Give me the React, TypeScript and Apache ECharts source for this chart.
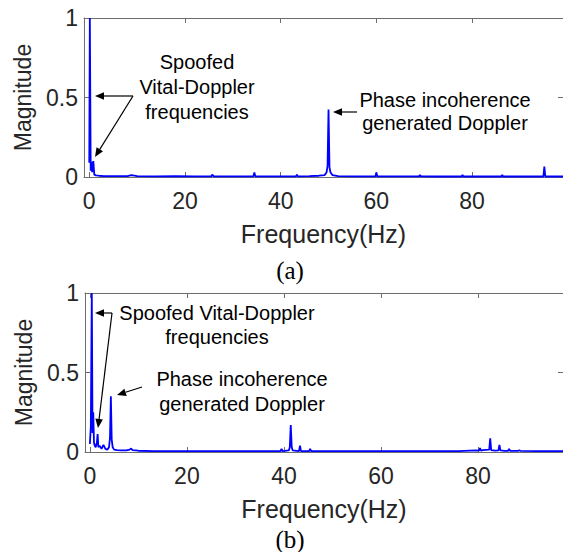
import React, { useEffect, useRef } from "react";
import * as echarts from "echarts";

const xTickValues = [0, 20, 40, 60, 80];
const topRange = [-1.1, 99];
const bottomRange = [-1.0, 97.5];

// (a) spectrum: [frequency Hz, magnitude]
const topSpectrum: [number, number][] = [
  [0, 0.09], [0.12, 1.0], [0.3, 0.04], [0.45, 0.095], [0.6, 0.03], [0.85, 0.1], [1.05, 0.015],
  [1.4, 0.01], [2, 0.008], [3, 0.006], [4.5, 0.005], [6, 0.006], [8, 0.005], [8.8, 0.012],
  [10, 0.005], [14, 0.004], [18, 0.005], [22, 0.004], [25.5, 0.004], [25.7, 0.015], [26, 0.004],
  [30, 0.004], [34.3, 0.004], [34.5, 0.028], [34.7, 0.004], [38, 0.004], [43.2, 0.004],
  [43.4, 0.015], [43.6, 0.004], [46, 0.005], [48, 0.008], [49.2, 0.012], [49.6, 0.03],
  [49.8, 0.07], [50.0, 0.425], [50.2, 0.06], [50.4, 0.03], [50.8, 0.012], [52, 0.006],
  [55, 0.004], [59.8, 0.004], [60, 0.028], [60.2, 0.004], [64, 0.004], [68.9, 0.004],
  [69.1, 0.012], [69.3, 0.004], [73, 0.003], [77.8, 0.003], [78, 0.012], [78.2, 0.003],
  [82, 0.003], [86.1, 0.003], [86.3, 0.012], [86.5, 0.003], [90, 0.003], [94.9, 0.003],
  [95.1, 0.065], [95.3, 0.003], [97, 0.003], [99, 0.003]
];

// (b) spectrum: [frequency Hz, magnitude]
const bottomSpectrum: [number, number][] = [
  [0, 0.05], [0.2, 0.16], [0.4, 1.0], [0.55, 0.12], [0.7, 0.25], [0.85, 0.06], [1.0, 0.04],
  [1.2, 0.03], [1.45, 0.06], [1.6, 0.113], [1.75, 0.03], [2.0, 0.04], [2.4, 0.02], [2.8, 0.045],
  [3.2, 0.02], [3.6, 0.015], [3.95, 0.03], [4.15, 0.09], [4.33, 0.35], [4.5, 0.08], [4.7, 0.03],
  [5.0, 0.015], [5.6, 0.012], [6.5, 0.01], [7.5, 0.01], [8.2, 0.015], [8.5, 0.022], [8.8, 0.012],
  [10, 0.008], [13, 0.006], [17, 0.005], [21, 0.005], [25, 0.005], [29, 0.006], [33, 0.005],
  [36, 0.006], [39.3, 0.006], [39.5, 0.02], [39.7, 0.006], [41.0, 0.01], [41.2, 0.03],
  [41.4, 0.17], [41.6, 0.03], [41.8, 0.01], [43.1, 0.006], [43.3, 0.04], [43.5, 0.006],
  [45.2, 0.006], [45.4, 0.02], [45.6, 0.006], [48, 0.005], [52, 0.005], [56, 0.005],
  [60, 0.006], [64, 0.005], [68, 0.005], [72, 0.005], [76, 0.005], [79.5, 0.01], [80.2, 0.008],
  [80.4, 0.025], [80.6, 0.008], [81, 0.012], [82.3, 0.015], [82.5, 0.086], [82.7, 0.012],
  [83.5, 0.008], [84.2, 0.01], [84.4, 0.045], [84.6, 0.01], [85.5, 0.007], [86.2, 0.008],
  [86.4, 0.02], [86.6, 0.008], [88.3, 0.007], [88.5, 0.012], [88.7, 0.007], [92, 0.006],
  [97.5, 0.006]
];

const FONT = "'Liberation Sans', Arial, sans-serif";
const AXIS_COLOR = "#6e6e6e";
const LABEL_COLOR = "#262626";

function arrow(x1: number, y1: number, x2: number, y2: number) {
  const dx = x2 - x1;
  const dy = y2 - y1;
  const len = Math.sqrt(dx * dx + dy * dy);
  const ux = dx / len;
  const uy = dy / len;
  const hl = 9;
  const hw = 3.8;
  const bx = x2 - ux * hl;
  const by = y2 - uy * hl;
  return [
    {
      type: "line",
      shape: { x1, y1, x2: bx, y2: by },
      style: { stroke: "#000", lineWidth: 1.2 },
      z: 100,
    },
    {
      type: "polygon",
      shape: {
        points: [
          [x2, y2],
          [bx - uy * hw, by + ux * hw],
          [bx + uy * hw, by - ux * hw],
        ],
      },
      style: { fill: "#000" },
      z: 100,
    },
  ];
}

function axesFor(gridIndex: number, range: number[]) {
  const xBase = {
    type: "value",
    gridIndex,
    min: range[0],
    max: range[1],
    splitLine: { show: false },
    axisLine: { show: true, onZero: false, lineStyle: { color: AXIS_COLOR, width: 1 } },
    axisTick: { show: true, inside: true, length: 5, customValues: xTickValues, lineStyle: { color: AXIS_COLOR } },
  };
  const yBase = {
    type: "value",
    gridIndex,
    min: 0,
    max: 1,
    interval: 0.5,
    splitLine: { show: false },
    axisLine: { show: true, onZero: false, lineStyle: { color: AXIS_COLOR, width: 1 } },
    axisTick: { show: true, inside: true, length: 5, lineStyle: { color: AXIS_COLOR } },
  };
  const x = [
    {
      ...xBase,
      position: "bottom",
      name: "Frequency(Hz)",
      nameLocation: "middle",
      nameGap: 44,
      nameTextStyle: { fontFamily: FONT, fontSize: 25, color: LABEL_COLOR },
      axisLabel: { show: true, customValues: xTickValues, margin: 12, fontFamily: FONT, fontSize: 23, color: LABEL_COLOR },
    },
    { ...xBase, position: "top", axisLabel: { show: false } },
  ];
  const y = [
    {
      ...yBase,
      position: "left",
      name: "Magnitude",
      nameLocation: "middle",
      nameGap: 50,
      nameTextStyle: { fontFamily: FONT, fontSize: 23, color: LABEL_COLOR },
      axisLabel: { show: true, margin: 6, fontFamily: FONT, fontSize: 23, color: LABEL_COLOR },
    },
    { ...yBase, position: "right", axisLabel: { show: false } },
  ];
  return { x, y };
}

export default function App() {
  const ref = useRef<HTMLDivElement>(null);
  useEffect(() => {
    document.body.style.margin = "0";
    const chart = echarts.init(ref.current!, null, { renderer: "svg" });
    const a = axesFor(0, topRange);
    const b = axesFor(1, bottomRange);
    const annotation = (x: number, y: number, text: string, lh: number) => ({
      type: "text",
      x,
      y,
      z: 100,
      style: {
        text,
        fontFamily: FONT,
        fontSize: 20,
        lineHeight: lh,
        fill: "#000",
        align: "center",
        verticalAlign: "middle",
      },
    });
    const option = {
      animation: false,
      backgroundColor: "#fff",
      grid: [
        { left: 84, top: 18, width: 479, height: 159, containLabel: false },
        { left: 85, top: 293, width: 478, height: 159, containLabel: false },
      ],
      xAxis: [...a.x, ...b.x.map((ax) => ({ ...ax, gridIndex: 1 }))],
      yAxis: [...a.y, ...b.y.map((ax) => ({ ...ax, gridIndex: 1 }))],
      series: [
        {
          type: "line",
          xAxisIndex: 0,
          yAxisIndex: 0,
          data: topSpectrum,
          showSymbol: false,
          lineStyle: { color: "#0000ff", width: 1.8 },
          z: 10,
        },
        {
          type: "line",
          xAxisIndex: 2,
          yAxisIndex: 2,
          data: bottomSpectrum,
          showSymbol: false,
          lineStyle: { color: "#0000ff", width: 1.8 },
          z: 10,
        },
      ],
      graphic: [
        annotation(197, 87, "Spoofed\nVital-Doppler\nfrequencies", 25),
        annotation(445, 111.5, "Phase incoherence\ngenerated Doppler", 23),
        annotation(217, 325, "Spoofed Vital-Doppler\nfrequencies", 24),
        annotation(242, 391.5, "Phase incoherence\ngenerated Doppler", 25),
        ...arrow(133, 96, 95, 96),
        ...arrow(133, 96, 95, 157),
        ...arrow(357, 112, 333, 112),
        ...arrow(112, 313, 95, 313),
        ...arrow(112, 313, 98, 428),
        ...arrow(142, 387, 117, 395),
        {
          type: "text",
          x: 290,
          y: 270,
          style: { text: "(a)", fontFamily: "'Liberation Serif', 'Times New Roman', serif", fontSize: 25, fill: "#000", align: "center", verticalAlign: "middle" },
        },
        {
          type: "text",
          x: 290,
          y: 539,
          style: { text: "(b)", fontFamily: "'Liberation Serif', 'Times New Roman', serif", fontSize: 25, fill: "#000", align: "center", verticalAlign: "middle" },
        },
      ],
    };
    chart.setOption(option as any);
    return () => chart.dispose();
  }, []);
  return <div ref={ref} style={{ width: 563, height: 552 }} />;
}
